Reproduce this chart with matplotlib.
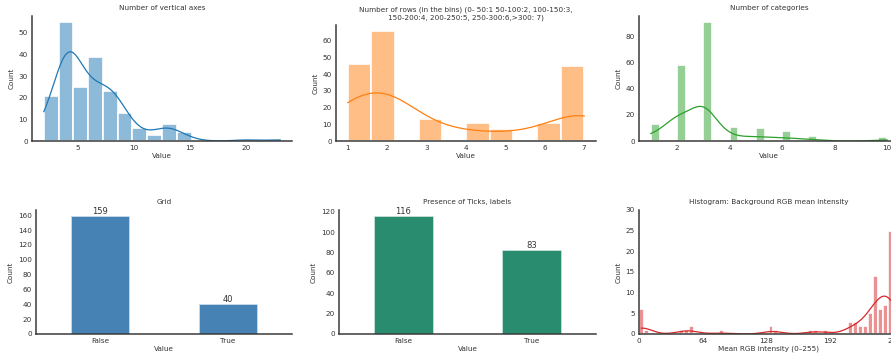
import numpy as np
import matplotlib
matplotlib.use("Agg")
import matplotlib.pyplot as plt
import seaborn as sns

# panel 1: number of vertical axes (integer values and how many charts have each)
vaxes_values = [2, 3, 4, 5, 6, 7, 8, 9, 10, 11, 12, 13, 14, 15, 20, 23]
vaxes_counts = [9, 12, 55, 25, 20, 19, 23, 13, 4, 2, 3, 8, 3, 1, 1, 1]

# panel 2: binned number of rows
rows_values = [1, 2, 3, 4, 5, 6, 7]
rows_counts = [46, 66, 13, 11, 7, 11, 45]

# panel 3: number of categories
cat_values = [1, 2, 3, 4, 5, 6, 7, 10]
cat_counts = [13, 58, 91, 11, 10, 8, 4, 3]

# panel 4/5: boolean features
bool_labels = ["False", "True"]
grid_counts = [159, 40]
ticks_counts = [116, 83]

# panel 6: background mean intensity, bins of 5 (left edges) and counts
rgb_bin_left = [0, 5, 40, 45, 50, 80, 130, 135, 170, 175, 185,
                210, 215, 220, 225, 230, 235, 240, 245, 250]
rgb_bin_counts = [6, 1, 1, 1, 2, 1, 2, 1, 1, 1, 1,
                  3, 3, 2, 2, 5, 14, 6, 7, 25]
rgb_ticks = [0, 64, 128, 192, 256]

W, H = 891, 356
fig = plt.figure(figsize=(W / 100, H / 100), dpi=100)

def add_ax(l, r, t, b):
    return fig.add_axes([l / W, 1 - b / H, (r - l) / W, (b - t) / H])

FS = 5.2

def style(ax, title, xlabel, ylabel="Count"):
    for s in ["top", "right"]:
        ax.spines[s].set_visible(False)
    for s in ["left", "bottom"]:
        ax.spines[s].set_color("#3a3a3a")
        ax.spines[s].set_linewidth(1.1)
    ax.tick_params(length=0, labelsize=FS, colors="#333333", pad=3)
    ax.set_title(title, fontsize=FS, color="#333333", pad=4)
    ax.set_xlabel(xlabel, fontsize=FS, color="#333333", labelpad=1)
    ax.set_ylabel(ylabel, fontsize=FS, color="#333333", labelpad=3)

hist_kw = dict(kde=True, alpha=0.5, edgecolor="white", linewidth=1.2,
               line_kws={"linewidth": 0.9})

# --- top row
ax1 = add_ax(32, 292, 16, 141)
d1 = np.repeat(vaxes_values, vaxes_counts)
sns.histplot(d1, bins=16, color="tab:blue", ax=ax1, **hist_kw)
style(ax1, "Number of vertical axes", "Value")

ax2 = add_ax(336, 596, 25, 141)
d2 = np.repeat(rows_values, rows_counts)
sns.histplot(d2, bins=10, color="tab:orange", ax=ax2, **hist_kw)
style(ax2, "Number of rows (in the bins) (0- 50:1 50-100:2, 100-150:3,\n"
      "150-200:4, 200-250:5, 250-300:6,>300: 7)", "Value")

ax3 = add_ax(639, 899, 16, 141)
d3 = np.repeat(cat_values, cat_counts)
sns.histplot(d3, bins=27, color="tab:green", ax=ax3, **hist_kw)
style(ax3, "Number of categories", "Value")

# --- bottom row
ax4 = add_ax(36, 292, 210, 334)
b4 = ax4.bar(bool_labels, grid_counts, width=0.46, color="#4682b4",
             edgecolor="#cfe0ee", linewidth=0.5)
ax4.bar_label(b4, fontsize=6, color="#333333", padding=0)
ax4.set_xlim(-0.5, 1.5)
ax4.set_ylim(0, max(grid_counts) * 1.05)
ax4.set_yticks(range(0, 161, 20))
style(ax4, "Grid", "Value")

ax5 = add_ax(339, 596, 210, 334)
b5 = ax5.bar(bool_labels, ticks_counts, width=0.46, color="#2a8c6e",
             edgecolor="#cfe8de", linewidth=0.5)
ax5.bar_label(b5, fontsize=6, color="#333333", padding=0)
ax5.set_xlim(-0.5, 1.5)
ax5.set_ylim(0, max(ticks_counts) * 1.05)
ax5.set_yticks(range(0, 121, 20))
style(ax5, "Presence of Ticks, labels", "Value")

ax6 = add_ax(639, 899, 210, 334)
d6 = np.repeat(np.array(rgb_bin_left) + 2.5, rgb_bin_counts)
sns.histplot(d6, bins=np.arange(0, 256, 5), color="tab:red", ax=ax6,
             kde_kws={"bw_adjust": 0.3}, **hist_kw)
ax6.set_xlim(0, 261)
ax6.set_ylim(0, 30)
ax6.set_xticks(rgb_ticks)
style(ax6, "Histogram: Background RGB mean intensity", "Mean RGB intensity (0\u2013255)")

fig.savefig("out.png", dpi=100)
